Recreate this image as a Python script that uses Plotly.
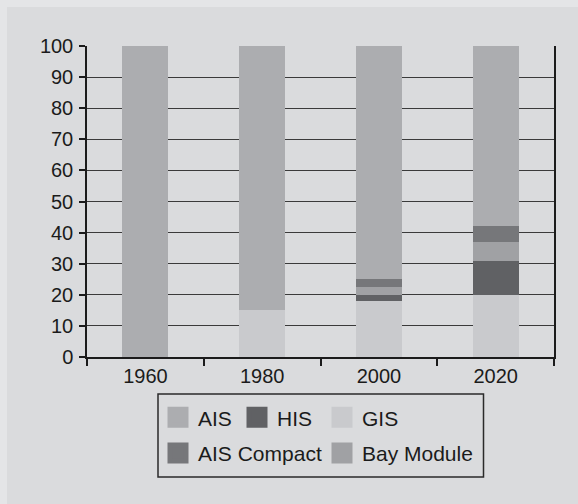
import plotly.graph_objects as go

# ---- data -------------------------------------------------------------
years = ["1960", "1980", "2000", "2020"]
gis = [0, 15, 18, 20]
his = [0, 0, 2, 11]
bay_module = [0, 0, 2.5, 6]
ais_compact = [0, 0, 2.5, 5]
ais = [100, 85, 75, 58]
y_ticks = list(range(0, 101, 10))

# ---- style ------------------------------------------------------------
W, H = 578, 504
ML, MR, MT, MB = 87, 24, 46, 147
PW, PH = W - ML - MR, H - MT - MB
FONT = "Liberation Sans, Arial, Helvetica, sans-serif"
INK = "#1b1b1b"

colors = {
    "AIS": "#acadb0",
    "HIS": "#606164",
    "GIS": "#c9cacd",
    "AIS Compact": "#76777a",
    "Bay Module": "#a0a1a4",
}


def px_x(px):
    return (px - ML) / PW


def px_y(py):
    return (MT + PH - py) / PH


fig = go.Figure()

# stacked bars, bottom to top
stack = [
    ("GIS", gis),
    ("HIS", his),
    ("Bay Module", bay_module),
    ("AIS Compact", ais_compact),
    ("AIS", ais),
]
for name, vals in stack:
    fig.add_trace(go.Bar(
        x=years, y=vals, name=name, showlegend=False,
        marker=dict(color=colors[name], line=dict(width=0)),
    ))

# legend entries (two rows, larger square swatches)
legend_rows = [
    ("legend", [("AIS", 34), ("HIS", 40), ("GIS", None)]),
    ("legend2", [("AIS Compact", 119), ("Bay Module", None)]),
]
for legend_id, entries in legend_rows:
    for name, lw in entries:
        kw = dict(legendwidth=lw) if lw else {}
        fig.add_trace(go.Scatter(
            x=[None], y=[None], mode="markers", name=name, legend=legend_id,
            marker=dict(symbol="square", size=16, color=colors[name],
                        line=dict(width=5, color=colors[name])),
            **kw,
        ))

legend_common = dict(
    orientation="h", xanchor="left", yanchor="top", traceorder="normal",
    bgcolor="rgba(0,0,0,0)", borderwidth=0,
    font=dict(family=FONT, size=21, color=INK),
)

fig.update_layout(
    width=W, height=H,
    margin=dict(l=ML, r=MR, t=MT, b=MB, autoexpand=False),
    paper_bgcolor="#e4e5e7",
    plot_bgcolor="rgba(0,0,0,0)",
    barmode="stack",
    bargap=0.605,
    font=dict(family=FONT, size=20, color=INK),
    legend=dict(x=px_x(158), y=px_y(397.2), **legend_common),
    legend2=dict(x=px_x(158), y=px_y(432.9), **legend_common),
    xaxis=dict(
        type="category", tickson="boundaries", ticks="outside", ticklen=7,
        tickcolor=INK, tickwidth=1.5,
        showline=True, linecolor=INK, linewidth=1.5, mirror=False,
        showgrid=False, zeroline=False,
        tickfont=dict(family=FONT, size=20, color=INK),
    ),
    yaxis=dict(
        range=[0, 100], tickvals=y_ticks, ticks="outside", ticklen=6,
        tickcolor=INK, tickwidth=1.5, ticklabelstandoff=2,
        showline=True, linecolor=INK, linewidth=1.5, mirror=True,
        showgrid=True, gridcolor="#3a3a3a", gridwidth=1, zeroline=False,
        tickfont=dict(family=FONT, size=20, color=INK),
    ),
    shapes=[
        # inner panel
        dict(type="rect", xref="paper", yref="paper", layer="below",
             x0=px_x(7), x1=px_x(W + 2), y0=px_y(H + 2), y1=px_y(7),
             fillcolor="#dadbdd", line=dict(width=0)),
        # legend frame
        dict(type="rect", xref="paper", yref="paper",
             x0=px_x(158), x1=px_x(483.5), y0=px_y(477), y1=px_y(394),
             fillcolor="rgba(0,0,0,0)", line=dict(color="#2a2a2a", width=1.5)),
    ],
)

fig.write_html("out.html")
